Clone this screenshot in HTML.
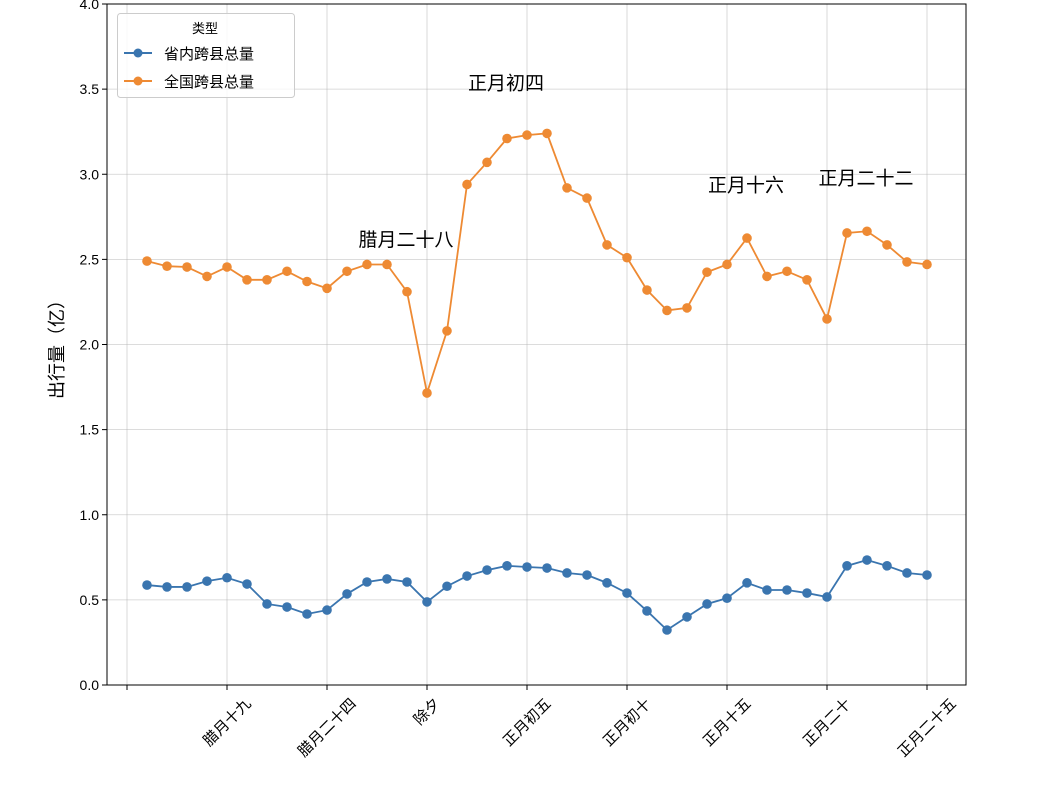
<!DOCTYPE html>
<html><head><meta charset="utf-8"><style>
body{margin:0;background:#fff;}
svg{display:block;font-family:"Liberation Sans","Noto Sans CJK SC",sans-serif;}
</style></head><body>
<svg id="chart" width="1040" height="790">
<g id="grid"></g>
<g id="series"></g>
<g id="axes"></g>
<text x="63" y="345" transform="rotate(-90 63 345)" text-anchor="middle" font-size="18">出行量（亿）</text>
<g>
<rect x="117.5" y="13.5" width="177" height="84" rx="3" fill="#fff" fill-opacity="0.8" stroke="#ccc"/>
<text x="205" y="33" text-anchor="middle" font-size="13">类型</text>
<line x1="124" y1="53" x2="152" y2="53" stroke="#3a75af" stroke-width="2"/><circle cx="138" cy="53" r="4.5" fill="#3a75af"/>
<text x="164" y="59" font-size="15">省内跨县总量</text>
<line x1="124" y1="81" x2="152" y2="81" stroke="#ee8a33" stroke-width="2"/><circle cx="138" cy="81" r="4.5" fill="#ee8a33"/>
<text x="164" y="87" font-size="15">全国跨县总量</text>
</g>
</svg>
<script>
const provinceVals=[0.587,0.576,0.576,0.61,0.63,0.593,0.476,0.458,0.417,0.44,0.535,0.605,0.623,0.605,0.488,0.58,0.64,0.675,0.70,0.693,0.687,0.658,0.646,0.60,0.54,0.435,0.323,0.40,0.476,0.51,0.60,0.558,0.558,0.54,0.517,0.70,0.734,0.70,0.658,0.646];
const nationalVals=[2.49,2.46,2.455,2.40,2.455,2.38,2.38,2.43,2.37,2.33,2.43,2.47,2.47,2.31,1.715,2.08,2.94,3.07,3.21,3.23,3.24,2.92,2.86,2.585,2.51,2.32,2.20,2.215,2.425,2.47,2.625,2.40,2.43,2.38,2.15,2.655,2.665,2.585,2.485,2.47];
const xTickIdx=[-1,4,9,14,19,24,29,34,39];
const xTickLabels=["","腊月十九","腊月二十四","除夕","正月初五","正月初十","正月十五","正月二十","正月二十五"];
const yTicks=[0,0.5,1.0,1.5,2.0,2.5,3.0,3.5,4.0];
const annIdx=[13,18,30,36];
const annVals=[2.62,3.54,2.94,2.98];
const annLabels=["腊月二十八","正月初四","正月十六","正月二十二"];
const NS="http://www.w3.org/2000/svg";
const L=107,R=966,T=4,B=685;
const xs=i=>147+20*i;
const ys=v=>B-(v/4)*(B-T);
function mk(tag,attrs,parent){const e=document.createElementNS(NS,tag);for(const k in attrs)e.setAttribute(k,attrs[k]);parent.appendChild(e);return e;}
const grid=document.getElementById('grid'),axes=document.getElementById('axes'),ser=document.getElementById('series');
xTickIdx.forEach((ix,j)=>{const x=xs(ix);
 const g=mk('line',{x1:x,y1:T,x2:x,y2:B,stroke:'#b0b0b0','stroke-width':0.8,'stroke-opacity':0.6},grid);
 
 
 const t=mk('line',{x1:x,y1:B,x2:x,y2:B+5,stroke:'#000'},axes);
 
 
 const len=xTickLabels[j].length*15;
 const h=len*0.707+12;
 const cy=B+10+h/2;
 const tx=mk('text',{x:x,y:cy+5,'font-size':15,'text-anchor':'middle',transform:`rotate(-45 ${x} ${cy})`},axes);
 tx.textContent=xTickLabels[j];
 
 
});
yTicks.forEach(v=>{const y=ys(v);
 const g=mk('line',{x1:L,y1:y,x2:R,y2:y,stroke:'#b0b0b0','stroke-width':0.8,'stroke-opacity':0.6},grid);
 
 
 const t=mk('line',{x1:L-5,y1:y,x2:L,y2:y,stroke:'#000'},axes);
 
 
 const tx=mk('text',{x:L-8,y:y+5,'font-size':14,'text-anchor':'end'},axes);
 tx.textContent=v.toFixed(1);
 
 
});
const frame=mk('rect',{x:L,y:T,width:R-L,height:B-T,fill:'none',stroke:'#000','stroke-width':1},axes);


function drawSeries(vals,color,name){
 const p=mk('polyline',{points:vals.map((v,i)=>xs(i)+','+ys(v)).join(' '),fill:'none',stroke:color,'stroke-width':1.8},ser);
 
 
 vals.forEach((v,i)=>{const c=mk('circle',{cx:xs(i),cy:ys(v),r:4.8,fill:color},ser);
  
  });
}
drawSeries(provinceVals,'#3a75af','province');
drawSeries(nationalVals,'#ee8a33','national');
annLabels.forEach((s,j)=>{const t=mk('text',{x:xs(annIdx[j])-1,y:ys(annVals[j])+7,'font-size':19,'text-anchor':'middle'},ser);
 t.textContent=s;
 
 });
</script>
</body></html>
